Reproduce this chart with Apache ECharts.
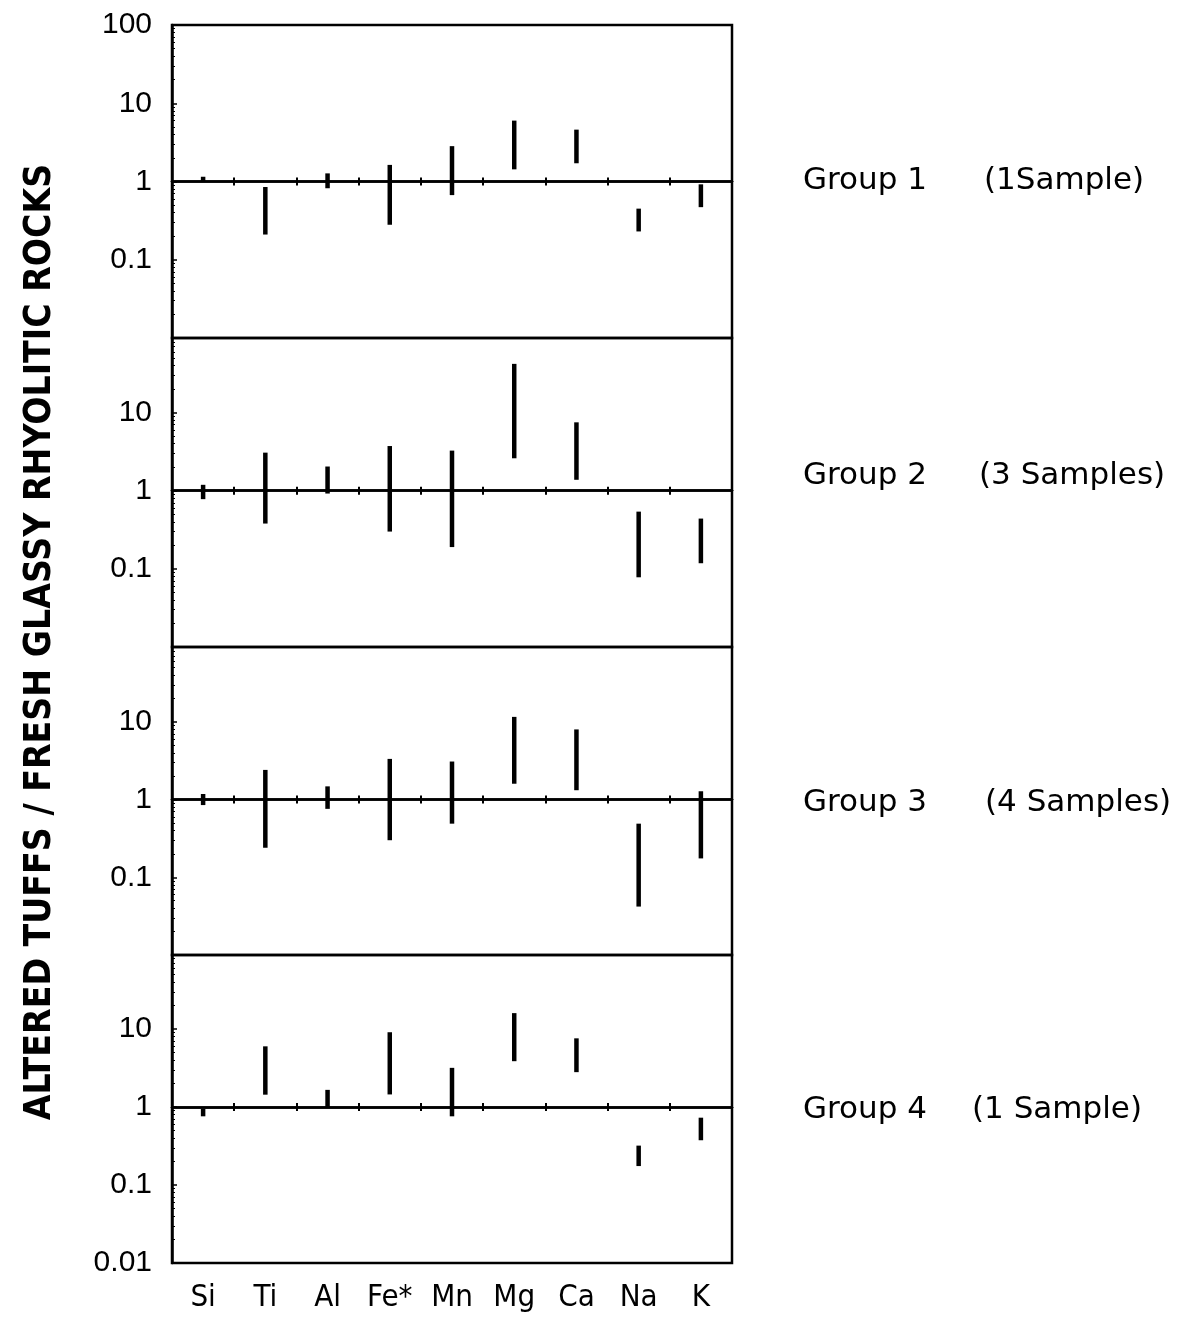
<!DOCTYPE html>
<html><head><meta charset="utf-8">
<script src="https://cdn.jsdelivr.net/npm/echarts@6/dist/echarts.min.js"></script>
<style>html,body{margin:0;padding:0;background:#fff}#c{width:1178px;height:1320px}</style>
</head><body><div id="c"></div>
<script>
// ---- data ----
const categories = ['Si', 'Ti', 'Al', 'Fe*', 'Mn', 'Mg', 'Ca', 'Na', 'K'];
const group1Low  = [1.0, 0.21, 0.82, 0.28, 0.67, 1.43, 1.71, 0.23, 0.47];
const group1High = [1.15, 0.85, 1.27, 1.63, 2.83, 6.0, 4.6, 0.45, 0.92];
const group2Low  = [0.78, 0.38, 0.92, 0.30, 0.19, 2.6, 1.38, 0.078, 0.118];
const group2High = [1.19, 3.07, 2.04, 3.73, 3.26, 42, 7.5, 0.54, 0.44];
const group3Low  = [0.85, 0.24, 0.76, 0.30, 0.49, 1.6, 1.32, 0.042, 0.175];
const group3High = [1.18, 2.41, 1.48, 3.34, 3.09, 11.6, 8.0, 0.49, 1.28];
const group4Low  = [0.76, 1.44, 1.0, 1.45, 0.76, 3.87, 2.8, 0.175, 0.375];
const group4High = [0.95, 6.0, 1.66, 9.1, 3.18, 16, 7.6, 0.32, 0.73];
const groupNames = ['Group 1', 'Group 2', 'Group 3', 'Group 4'];
const sampleNames = ['(1Sample)', '(3 Samples)', '(4 Samples)', '(1 Sample)'];
const yTickLabels = [['100', '10', '1', '0.1'], ['10', '1', '0.1'], ['10', '1', '0.1'], ['10', '1', '0.1', '0.01']];
const yMin = 0.01;
const yMaxes = [100, 90, 92, 89];
const yTitle = 'ALTERED TUFFS / FRESH GLASSY RHYOLITIC ROCKS';

const lows = [group1Low, group2Low, group3Low, group4Low];
const highs = [group1High, group2High, group3High, group4High];

// ---- layout ----
const panelTops = [25, 338, 647, 955];
const panelHeights = [313, 309, 308, 308];
const gridLeft = 172, gridRight = 446;
const groupTextY = [181, 476, 803, 1110];
const sampleTextX = [984, 979, 985, 972];

const grids = [], xAxes = [], yAxes = [], series = [], graphics = [];
for (let i = 0; i < 4; i++) {
  grids.push({left: gridLeft, right: gridRight, top: panelTops[i], height: panelHeights[i],
    show: true, borderColor: '#000', borderWidth: 2.5, backgroundColor: 'transparent'});
  const lmin = Math.log10(yMin), lmax = Math.log10(yMaxes[i]);
  const oneOffset = -panelHeights[i] * (0 - lmin) / (lmax - lmin);
  const base = {gridIndex: i, type: 'category', data: categories, position: 'bottom',
    boundaryGap: true, offset: oneOffset,
    axisLine: {show: true, lineStyle: {color: '#000', width: 2.5}},
    axisLabel: {show: false}, splitLine: {show: false}};
  const idxA = xAxes.length;
  xAxes.push(Object.assign({}, base, {axisTick: {show: true, inside: false, length: 4, alignWithLabel: false, lineStyle: {color: '#000', width: 2}}}));
  xAxes.push(Object.assign({}, base, {axisTick: {show: true, inside: true, length: 4, alignWithLabel: false, lineStyle: {color: '#000', width: 2}}}));
  if (i === 3) {
    xAxes.push({gridIndex: i, type: 'category', data: categories, position: 'bottom', offset: 0,
      axisLine: {show: false}, axisTick: {show: false}, splitLine: {show: false},
      axisLabel: {show: true, color: '#000', fontSize: 31, margin: 19,
        fontFamily: '"Liberation Sans Narrow", "DejaVu Sans Condensed", "Liberation Sans", sans-serif'}});
  }
  const allowed = yTickLabels[i];
  yAxes.push({gridIndex: i, type: 'log', logBase: 10, min: yMin, max: yMaxes[i],
    axisLine: {show: true, lineStyle: {color: '#000', width: 2.5}},
    axisTick: {show: true, inside: true, length: 5, lineStyle: {color: '#000', width: 1.5}},
    minorTick: {show: true, splitNumber: 9, length: 3, lineStyle: {color: '#000', width: 1}},
    splitLine: {show: false}, minorSplitLine: {show: false},
    axisLabel: {show: true, color: '#000', fontSize: 30, margin: 20,
      fontFamily: '"Liberation Sans", Arial, sans-serif',
      formatter: function (v) {
        const s = String(+Number(v).toPrecision(3));
        return allowed.indexOf(s) >= 0 ? s : '';
      }}});
  series.push({type: 'custom', xAxisIndex: idxA, yAxisIndex: i,
    encode: {x: 0, y: [1, 2]},
    data: categories.map((c, k) => [k, lows[i][k], highs[i][k]]),
    renderItem: function (params, api) {
      const x = api.value(0);
      const p1 = api.coord([x, api.value(1)]);
      const p2 = api.coord([x, api.value(2)]);
      return {type: 'line', shape: {x1: p1[0], y1: p1[1], x2: p2[0], y2: p2[1]},
        style: {stroke: '#000', lineWidth: 4.5, lineCap: 'butt'}};
    }});
  graphics.push({type: 'text', x: 803, y: groupTextY[i],
    style: {text: groupNames[i], fill: '#000', verticalAlign: 'middle', font: '31px "DejaVu Sans", sans-serif'}});
  graphics.push({type: 'text', x: sampleTextX[i], y: groupTextY[i],
    style: {text: sampleNames[i], fill: '#000', verticalAlign: 'middle', font: '31px "DejaVu Sans", sans-serif'}});
}
graphics.push({type: 'text', x: 40, y: 642, rotation: Math.PI / 2,
  style: {text: yTitle, fill: '#000', align: 'center', verticalAlign: 'middle',
    font: 'bold 37px "Liberation Sans Narrow", "DejaVu Sans Condensed", "Liberation Sans", sans-serif'}});

const chart = echarts.init(document.getElementById('c'), null, {renderer: 'canvas'});
chart.setOption({
  animation: false,
  backgroundColor: '#fff',
  grid: grids, xAxis: xAxes, yAxis: yAxes, series: series, graphic: graphics
});
</script></body></html>
